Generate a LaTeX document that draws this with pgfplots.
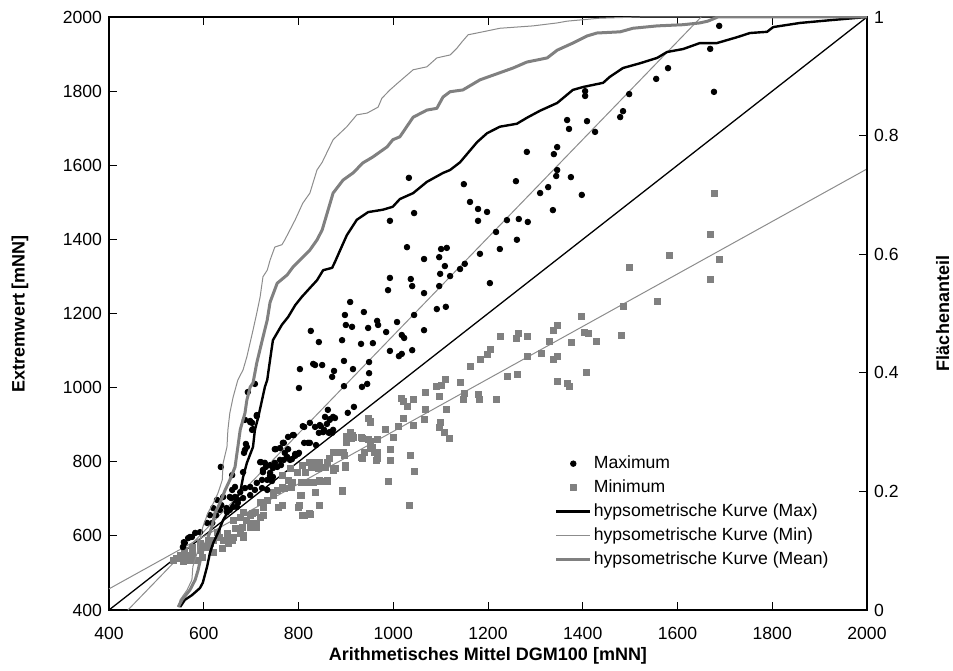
\documentclass[border=0pt]{standalone}
\usepackage{fontspec}
\setmainfont{Liberation Sans}
\usepackage{pgfplots}
\usepackage{pgfplotstable}
\pgfplotsset{compat=1.18}
\usetikzlibrary{calc}
\definecolor{dgray}{rgb}{0.5,0.5,0.5}
\definecolor{lgray}{rgb}{0.55,0.55,0.55}

\pgfplotstableread{
x y
1688 1976
1669 1914
1677 1798
1580 1862
1555 1833
1498 1792
1485 1746
1479 1730
1405 1800
1405 1787
1409 1719
1426 1690
1367 1722
1371 1698
1282 1636
1346 1649
1339 1630
1033 1566
1044 1471
1149 1549
1259 1557
1346 1587
1344 1571
1375 1568
1327 1541
1310 1525
1398 1520
1162 1501
1179 1482
1198 1474
1179 1450
1337 1479
1240 1452
1265 1455
1284 1447
1217 1420
1261 1399
1029 1379
1101 1374
1113 1377
1225 1374
993 1450
1065 1347
1097 1352
1183 1361
1109 1328
1099 1307
1141 1320
1151 1334
1120 1301
1204 1282
1037 1293
1040 1274
1065 1255
1097 1274
1092 1212
1111 1218
1044 1196
1065 1155
1018 1142
1023 1134
1040 1101
1018 1091
993 1296
989 1263
909 1231
898 1196
938 1204
900 1169
913 1164
947 1161
966 1180
968 1169
1008 1177
826 1153
843 1123
892 1128
932 1118
957 1120
985 1150
993 1099
1012 1085
803 1050
831 1064
835 1061
850 1061
896 1072
915 1050
949 1069
949 1039
871 1029
875 1045
801 999
896 1004
934 1002
945 1010
693 988
708 1010
917 948
904 932
862 940
866 913
877 918
712 923
698 910
704 888
689 848
685 824
683 772
636 786
721 799
731 786
725 772
740 762
744 748
767 851
788 872
809 896
750 834
778 834
793 821
801 824
812 851
820 851
824 905
835 894
845 899
873 921
854 886
864 878
871 878
771 824
776 813
786 807
761 805
750 797
746 783
628 697
641 705
655 705
660 724
666 732
672 697
670 678
649 664
620 675
613 656
592 610
582 608
575 597
567 594
558 583
556 570
607 635
634 670
856 921
866 915
860 902
847 896
852 880
843 878
866 880
873 886
812 894
790 872
778 867
824 851
837 845
769 851
761 837
752 834
799 821
793 816
782 805
769 805
763 791
755 786
740 791
729 797
719 799
725 778
740 770
746 759
734 751
723 751
712 743
698 732
687 729
708 724
723 729
734 724
677 718
666 705
683 702
698 710
672 689
662 678
655 670
687 913
698 907
712 926
702 886
687 832
560 581
571 597
618 635
626 656
637 683
648 675
658 702
660 764
702 905
691 840
}\maxdata

\pgfplotstableread{
x y
1677 1525
1669 1414
1582 1358
1498 1325
1688 1347
1669 1293
1557 1234
1485 1220
1398 1191
1346 1169
1337 1155
1329 1126
1375 1123
1403 1150
1411 1145
1428 1126
1481 1142
1227 1139
1259 1134
1265 1145
1284 1137
1206 1104
1198 1091
1183 1077
1162 1058
1284 1083
1312 1093
1346 1083
1339 1075
1240 1031
1263 1037
1407 1042
1111 1021
1101 1007
1092 1002
1141 1015
1346 1018
1367 1012
1371 1004
1067 988
1097 975
1151 985
1179 983
1042 969
1018 972
1021 964
1029 950
1149 967
1181 967
1217 967
1067 942
1113 942
1021 918
1065 913
1042 899
1099 905
1097 894
947 918
951 910
1010 896
983 886
1000 867
932 867
911 864
913 872
1109 878
1118 864
993 834
993 805
1037 816
1044 775
951 856
957 840
966 824
940 826
964 805
932 813
873 826
896 818
873 783
898 789
989 748
892 721
1035 681
902 869
845 681
826 659
812 654
801 681
803 708
835 718
862 748
847 748
877 783
831 745
812 745
788 745
771 729
746 716
765 681
725 656
708 629
683 602
662 597
655 589
641 589
628 610
609 589
592 581
577 570
560 562
550 548
543 540
951 907
909 878
915 867
934 864
947 859
966 859
951 837
961 826
940 824
902 851
894 824
881 826
866 810
860 797
845 797
835 799
824 799
809 791
828 786
841 783
856 786
873 778
898 786
966 810
934 810
782 783
797 772
814 770
765 764
778 751
807 745
828 745
845 751
862 751
892 724
807 710
786 732
767 732
755 724
746 710
734 697
719 691
757 678
799 678
824 662
809 656
708 664
698 656
691 643
677 651
712 624
698 635
681 624
666 621
660 589
535 535
550 540
565 548
577 554
592 562
607 570
613 581
620 589
634 597
649 608
556 530
571 535
586 535
598 543
620 556
639 567
651 581
677 608
677 621
698 624
712 635
683 597
662 643
683 664
702 662
719 651
725 678
}\mindata

\pgfplotstableread{
x f
550 0.005
560 0.017
575 0.025
592 0.037
598 0.046
607 0.073
613 0.096
620 0.113
630 0.130
641 0.152
660 0.177
677 0.199
683 0.224
691 0.248
704 0.275
708 0.304
715 0.325
723 0.354
729 0.376
734 0.388
740 0.422
746 0.455
765 0.481
778 0.494
793 0.514
807 0.528
824 0.543
839 0.556
852 0.573
871 0.577
877 0.587
888 0.607
902 0.632
923 0.658
947 0.671
978 0.675
999 0.680
1014 0.693
1042 0.703
1071 0.722
1105 0.737
1120 0.742
1141 0.755
1177 0.789
1198 0.804
1225 0.815
1261 0.820
1282 0.830
1310 0.842
1346 0.855
1379 0.877
1401 0.882
1443 0.889
1457 0.899
1485 0.914
1521 0.922
1557 0.931
1578 0.941
1612 0.946
1647 0.956
1683 0.956
1726 0.966
1753 0.973
1789 0.975
1802 0.983
1859 0.990
1928 0.995
2000 1.000
}\hypmax

\pgfplotstableread{
x f
546 0.005
550 0.017
565 0.034
575 0.051
577 0.073
586 0.096
592 0.118
598 0.140
609 0.164
620 0.180
630 0.197
639 0.219
641 0.248
649 0.275
651 0.304
655 0.332
662 0.359
672 0.388
683 0.405
691 0.427
704 0.472
712 0.501
719 0.528
725 0.562
734 0.573
740 0.590
750 0.612
765 0.616
771 0.624
782 0.641
793 0.658
809 0.686
824 0.703
839 0.742
850 0.755
873 0.793
902 0.815
923 0.835
945 0.838
968 0.848
976 0.863
993 0.877
1010 0.889
1042 0.911
1071 0.916
1092 0.931
1120 0.936
1135 0.948
1145 0.958
1158 0.970
1189 0.975
1225 0.981
1295 0.985
1346 0.990
1367 0.993
1436 0.998
1521 1.000
2000 1.000
}\hypmin

\pgfplotstableread{
x f
546 0.005
554 0.017
571 0.034
582 0.051
588 0.067
596 0.096
607 0.118
617 0.140
624 0.164
634 0.180
645 0.202
655 0.219
666 0.241
672 0.275
677 0.304
687 0.332
691 0.354
698 0.376
704 0.383
712 0.417
725 0.460
734 0.489
740 0.519
755 0.551
776 0.565
788 0.578
809 0.595
824 0.607
839 0.624
850 0.641
873 0.703
894 0.725
915 0.737
936 0.754
957 0.764
987 0.781
999 0.793
1014 0.798
1042 0.831
1071 0.843
1092 0.846
1105 0.865
1120 0.874
1147 0.877
1183 0.894
1211 0.902
1253 0.914
1282 0.924
1325 0.931
1346 0.944
1379 0.956
1409 0.968
1430 0.973
1479 0.975
1506 0.981
1557 0.985
1612 0.987
1647 0.990
1664 0.993
1685 1.000
2000 1.000
}\hypmean

\begin{document}
\begin{tikzpicture}
\pgfplotsset{
  every axis/.append style={
    width=379pt, height=296.5pt, scale only axis,
    xmin=400, xmax=2000,
    axis line style={line width=0.7pt},
    every tick/.style={line width=0.5pt, black},
    major tick length=4pt,
    tick label style={font=\fontsize{8.8}{10}\selectfont},
    label style={font=\bfseries\fontsize{9}{11}\selectfont},
    /pgf/number format/assume math mode=true,
    /pgf/number format/1000 sep={},
  }
}
\begin{axis}[
  ymin=400, ymax=2000,
  xtick={400,600,...,2000}, ytick={400,600,...,2000},
  ytick pos=left, xtick pos=both,
  xticklabel style={yshift=-5pt},
  xlabel={Arithmetisches Mittel DGM100 [mNN]},
  ylabel={Extremwert [mNN]},
  xlabel style={at={(axis description cs:0.5,-0.0776)}, anchor=center},
  ylabel style={at={(axis description cs:-0.1174,0.5)}, anchor=center},
  clip=true,
]
\coordinate (SW) at (rel axis cs:0,0);
\coordinate (NE) at (rel axis cs:1,1);
\addplot[black, line width=0.65pt] coordinates {(400,400) (2000,2000)};
\addplot[lgray, line width=0.5pt] coordinates {(440,400) (1650,2000)};
\addplot[lgray, line width=0.5pt] coordinates {(400,457) (2000,1590)};
\addplot[dgray, only marks, mark=square*, mark size=1.5pt, mark options={draw=none, fill=dgray}] table[x=x,y=y] {\mindata};
\addplot[black, only marks, mark=*, mark size=1.4pt, mark options={draw=none, fill=black}] table[x=x,y=y] {\maxdata};
\end{axis}
\begin{axis}[
  ymin=0, ymax=1,
  axis x line=none,
  axis y line*=right,
  ytick={0,0.2,...,1},
  ylabel={Flächenanteil},
  ylabel style={at={(axis description cs:1.100,0.5)}, anchor=center},
  legend cell align=left,
  legend style={draw=none, fill=none, font=\fontsize{8.8}{10}\selectfont,
    at={(axis description cs:0.770,0.166)}, anchor=center,
    row sep=2.1pt, nodes={inner sep=1pt}},
  line join=round,
]
\addlegendimage{black, only marks, mark=*, mark size=1.4pt, mark options={draw=none, fill=black}}
\addlegendentry{Maximum}
\addlegendimage{dgray, only marks, mark=square*, mark size=1.5pt, mark options={draw=none, fill=dgray}}
\addlegendentry{Minimum}
\addplot[black, line width=1.2pt] table[x=x,y=f] {\hypmax};
\addlegendentry{hypsometrische Kurve (Max)}
\addplot[lgray, line width=0.5pt] table[x=x,y=f] {\hypmin};
\addlegendentry{hypsometrische Kurve (Min)}
\addplot[dgray, line width=1.5pt] table[x=x,y=f] {\hypmean};
\addlegendentry{hypsometrische Kurve (Mean)}
\end{axis}
\pgfresetboundingbox
\path[use as bounding box] ($(SW)+(-54.5pt,-30pt)$) rectangle ($(NE)+(43pt,8.5pt)$);
\end{tikzpicture}
\end{document}
